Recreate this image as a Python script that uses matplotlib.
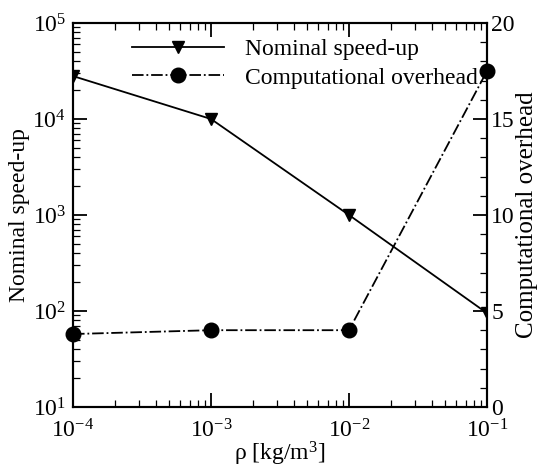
import numpy as np
import matplotlib.pyplot as plt
from matplotlib.ticker import LogLocator, MultipleLocator, NullFormatter

plt.rcParams['font.family'] = 'Liberation Serif'
plt.rcParams['mathtext.fontset'] = 'custom'
plt.rcParams['mathtext.rm'] = 'Liberation Serif'
plt.rcParams['mathtext.it'] = 'Liberation Serif:italic'

rho = [1e-4, 1e-3, 1e-2, 1e-1]
speedup = [2.8e4, 1.0e4, 1.0e3, 95]
overhead = [3.8, 4.0, 4.0, 17.5]

fig = plt.figure(figsize=(5.39, 4.67), dpi=100)
ax = fig.add_axes([73/539, 1 - 407/467, (487-73)/539, (407-23)/467])
ax2 = ax.twinx()

l1, = ax.plot(rho, speedup, 'k-', marker='v', markersize=8, lw=1.3,
              label='Nominal speed-up')
l2, = ax2.plot(rho, overhead, 'k-.', marker='o', markersize=10.5, lw=1.3,
               label='Computational overhead', clip_on=False)

ax.set_xscale('log')
ax.set_yscale('log')
ax.set_xlim(1e-4, 1e-1)
ax.set_ylim(10, 1e5)
ax2.set_ylim(0, 20)

ax.xaxis.set_major_locator(LogLocator(base=10, numticks=10))
ax.xaxis.set_minor_locator(LogLocator(base=10, subs=np.arange(2, 10), numticks=10))
ax.xaxis.set_minor_formatter(NullFormatter())
ax.yaxis.set_major_locator(LogLocator(base=10, numticks=10))
ax.yaxis.set_minor_locator(LogLocator(base=10, subs=np.arange(2, 10), numticks=10))
ax.yaxis.set_minor_formatter(NullFormatter())
ax2.yaxis.set_major_locator(MultipleLocator(5))
ax2.yaxis.set_minor_locator(MultipleLocator(1))

ax.tick_params(which='both', direction='in', top=True, labelsize=17)
ax.tick_params(axis='x', pad=9)
ax.tick_params(axis='y', pad=5)
ax.tick_params(which='major', length=10, width=1.3)
ax.tick_params(which='minor', length=5, width=0.9)
ax2.tick_params(which='both', direction='in', labelsize=17, pad=3)
ax2.tick_params(which='major', length=10, width=1.3)
ax2.tick_params(which='minor', length=5, width=0.9)

# shift left tick labels up so the "10" sits on the tick
for lab in ax.get_yticklabels():
    lab.set_verticalalignment('center_baseline')

for a in (ax, ax2):
    for s in a.spines.values():
        s.set_linewidth(1.5)

ax.set_xlabel(r'ρ [kg/m$^3$]', fontsize=17, labelpad=-2)
ax.set_ylabel('Nominal speed-up', fontsize=17)
ax2.set_ylabel('Computational overhead', fontsize=18)
ax.yaxis.set_label_coords(-0.105, 0.5)
ax2.yaxis.set_label_coords(1.07, 0.5)

ax.legend([l1, l2], ['Nominal speed-up', 'Computational overhead'],
          loc='upper left', bbox_to_anchor=(0.09, 1.015), frameon=False,
          fontsize=17, handlelength=3.9, handletextpad=0.9, labelspacing=0.3)

fig.savefig('out.png', dpi=100)
